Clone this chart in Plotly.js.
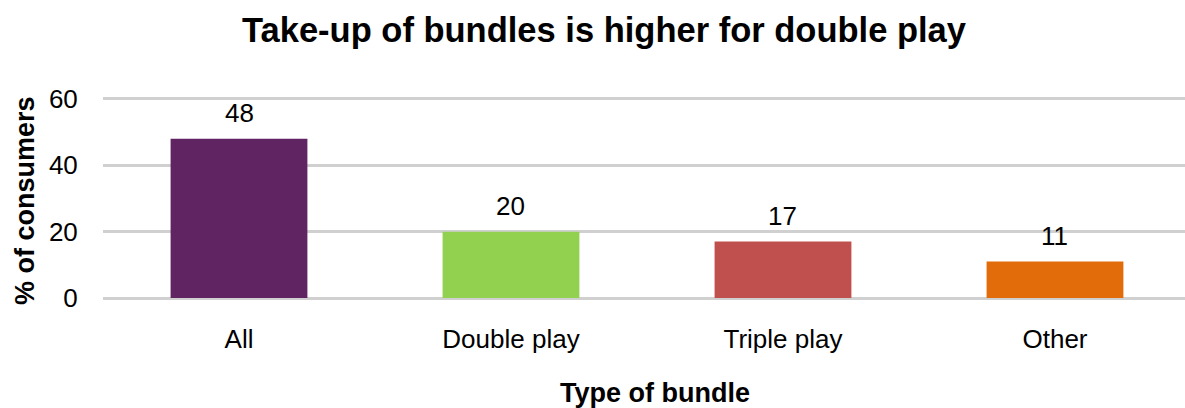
<!DOCTYPE html>
<html>
<head>
<meta charset="utf-8">
<script src="https://cdn.plot.ly/plotly-3.0.1.min.js"></script>
<style>html,body{margin:0;padding:0;background:#fff;}#chart{width:1185px;height:408px;}</style>
</head>
<body>
<div id="chart"></div>
<script>
const categories = ["All", "Double play", "Triple play", "Other"];
const values = [48, 20, 17, 11];
const barColors = ["#612462", "#92D050", "#C0504D", "#E36C0A"];
const yTicks = [0, 20, 40, 60];

const FONT = "Liberation Sans, Arial, sans-serif";

const trace = {
  type: "bar",
  x: categories.map((c, i) => i),
  y: values,
  width: 0.503,
  marker: {color: barColors, line: {width: 0}},
  hoverinfo: "none"
};

const labelAnnotations = values.map((v, i) => ({
  x: i, y: v, xref: "x", yref: "y",
  text: String(v), showarrow: false,
  yanchor: "middle", yshift: 26,
  font: {family: FONT, size: 26, color: "#000"}
}));

const M = {l: 103, r: 0, t: 97, b: 108};
const plotW = 1185 - M.l - M.r;
const plotH = 408 - M.t - M.b;
const plotBottom = 408 - M.b;

const layout = {
  width: 1185, height: 408,
  margin: {l: M.l, r: M.r, t: M.t, b: M.b, pad: 0},
  paper_bgcolor: "#fff", plot_bgcolor: "#fff",
  showlegend: false,
  title: {
    text: "<b>Take-up of bundles is higher for double play</b>",
    font: {family: FONT, size: 34.5, color: "#000"},
    xref: "container", yref: "container",
    x: 604 / 1185, xanchor: "center",
    y: 1 - 30 / 408, yanchor: "middle"
  },
  xaxis: {
    range: [-0.5, 3.478],
    tickmode: "array",
    tickvals: categories.map((c, i) => i),
    ticktext: categories,
    showgrid: false, zeroline: false, showline: false,
    ticks: "outside", ticklen: 16, tickcolor: "rgba(0,0,0,0)",
    tickfont: {family: FONT, size: 26, color: "#000"},
    fixedrange: true
  },
  yaxis: {
    range: [-0.6, 60.6],
    tickmode: "array",
    tickvals: yTicks,
    ticktext: yTicks.map(String),
    showgrid: true, gridcolor: "#d0d0d0", gridwidth: 3,
    zeroline: false, showline: false,
    ticks: "outside", ticklen: 19, tickcolor: "rgba(0,0,0,0)",
    tickfont: {family: FONT, size: 26, color: "#000"},
    fixedrange: true
  },
  annotations: labelAnnotations.concat([
    {
      text: "<b>Type of bundle</b>", showarrow: false,
      xref: "paper", yref: "paper",
      x: (655 - M.l) / plotW, xanchor: "center",
      y: (plotBottom - 393) / plotH, yanchor: "middle",
      font: {family: FONT, size: 27, color: "#000"}
    },
    {
      text: "<b>% of consumers</b>", showarrow: false, textangle: -90,
      xref: "paper", yref: "paper",
      x: (25 - M.l) / plotW, xanchor: "center",
      y: (plotBottom - 201) / plotH, yanchor: "middle",
      font: {family: FONT, size: 27, color: "#000"}
    }
  ])
};

Plotly.newPlot("chart", [trace], layout, {displayModeBar: false, staticPlot: true});
</script>
</body>
</html>
